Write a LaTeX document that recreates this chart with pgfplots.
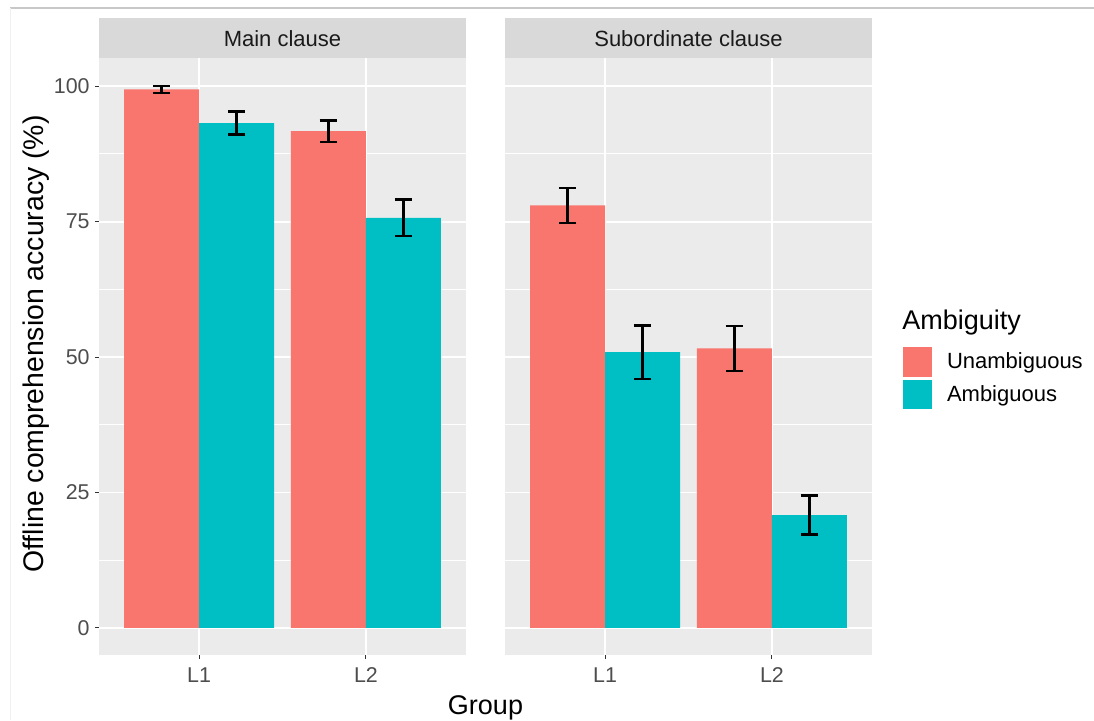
\documentclass[border=0pt]{standalone}
\usepackage{fontspec}
\setmainfont{Liberation Sans}
\usepackage{pgfplots}
\pgfplotsset{compat=1.18}
\definecolor{cUn}{HTML}{F8766D}
\definecolor{cAm}{HTML}{00BFC4}
\definecolor{panel}{HTML}{EBEBEB}
\definecolor{stripc}{HTML}{D9D9D9}
\definecolor{gtxt}{HTML}{4D4D4D}
\definecolor{gtick}{HTML}{333333}
\definecolor{stxt}{HTML}{1A1A1A}
\pgfplotsset{
  facet/.style={
    scale only axis, width=183.5pt, height=298.5pt,
    anchor=north west,
    xmin=0.4, xmax=2.6, ymin=-5, ymax=105.2,
    xtick={1,2}, xticklabels={L1,L2},
    ytick={0,25,50,75,100},
    minor ytick={12.5,37.5,62.5,87.5},
    axis line style={draw=none},
    axis background/.style={fill=panel},
    xmajorgrids, ymajorgrids, yminorgrids,
    major grid style={white, line width=0.9pt},
    minor grid style={white, line width=0.45pt},
    tick align=outside, tick pos=left,
    major tick length=2pt, minor tick length=0pt,
    tick style={gtick, line width=0.5pt},
    /pgf/number format/assume math mode=true,
    x tick label style={font=\fontsize{10.7}{12}\selectfont, text=gtxt, inner sep=0pt, anchor=north, yshift=-4pt},
    y tick label style={font=\fontsize{10.7}{12}\selectfont, text=gtxt, inner sep=0pt, anchor=east, xshift=-2.5pt},
    ybar, bar width=0.45,
  },
  sq/.style={draw=none, fill=#1,
    legend image code/.code={\fill[#1, draw=none] (0pt,-7.4pt) rectangle (14.5pt,7.4pt);},
    error bars/y dir=both, error bars/y explicit,
    error bars/error bar style={black, line width=1.25pt},
    error bars/error mark options={black, line width=1.25pt, mark size=4.4pt, rotate=90}},
}
\pgfplotstableread{
x  un    unerr  am    amerr
1  99.4  0.65   93.2  2.1
2  91.7  2.0    75.7  3.4
}\maintab
\pgfplotstableread{
x  un    unerr  am    amerr
1  78.0  3.25   50.9  4.95
2  51.6  4.15   20.8  3.6
}\subtab
\begin{document}
\begin{tikzpicture}
\useasboundingbox (0,0) rectangle (547pt,-360pt);
\fill[white] (0,0) rectangle (547pt,-360pt);
\draw[color={rgb,255:red,200;green,200;blue,200}, line width=0.6pt] (5pt,-4pt) -- (547pt,-4pt);
\draw[color={rgb,255:red,240;green,240;blue,240}, line width=0.5pt] (5pt,-4pt) -- (5pt,-360pt);

\begin{axis}[facet, at={(49.5pt,-29pt)}]
\addplot[sq=cUn, bar shift=-0.225] table[x=x, y=un, y error=unerr] {\maintab};
\addplot[sq=cAm, bar shift=0.225] table[x=x, y=am, y error=amerr] {\maintab};
\end{axis}

\begin{axis}[facet, at={(252.5pt,-29pt)}, yticklabels={}, ytick style={draw=none},
  legend style={at={(1.0845,0.5159)}, anchor=north west, draw=none, fill=none,
    font=\fontsize{11}{13}\selectfont, row sep=1.6pt, column sep=7.5pt,
    inner sep=0pt, outer sep=0pt, nodes={inner sep=0pt}, cells={anchor=west}}]
\addplot[sq=cUn, bar shift=-0.225] table[x=x, y=un, y error=unerr] {\subtab};
\addlegendentry{Unambiguous}
\addplot[sq=cAm, bar shift=0.225] table[x=x, y=am, y error=amerr] {\subtab};
\addlegendentry{Ambiguous}
\end{axis}

\fill[stripc] (49.5pt,-9.15pt) rectangle (233pt,-29pt);
\node[text=stxt, font=\fontsize{11}{13}\selectfont] at (141.25pt,-19.1pt) {Main clause};
\fill[stripc] (252.5pt,-9.15pt) rectangle (436pt,-29pt);
\node[text=stxt, font=\fontsize{11}{13}\selectfont] at (344.25pt,-19.1pt) {Subordinate clause};

\node[anchor=west, inner sep=0pt, font=\fontsize{13.5}{16}\selectfont] at (451pt,-161.5pt) {Ambiguity};
\node[rotate=90, inner sep=0pt, font=\fontsize{14.2}{16}\selectfont] at (18pt,-172pt) {Offline comprehension accuracy (\%)};
\node[inner sep=0pt, font=\fontsize{13.5}{16}\selectfont] at (242.75pt,-354pt) {Group};
\end{tikzpicture}
\end{document}
